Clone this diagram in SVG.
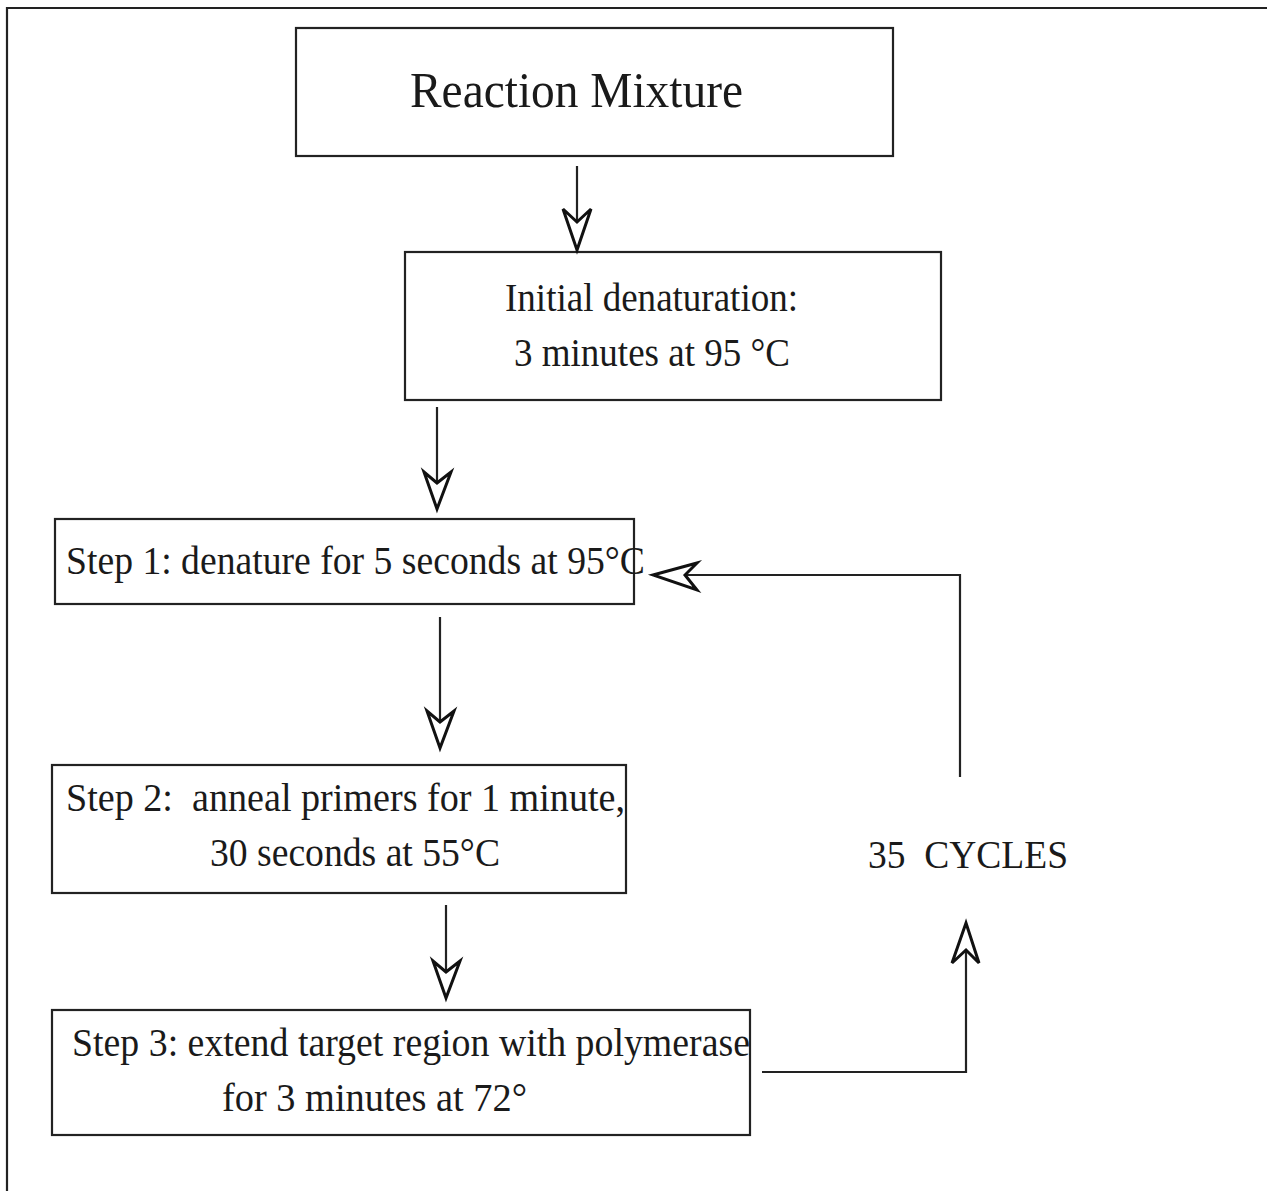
<svg xmlns="http://www.w3.org/2000/svg" width="1267" height="1191" viewBox="0 0 1267 1191">
<style>
.box{fill:none;stroke:#222;stroke-width:2.2}
.ln{fill:none;stroke:#222;stroke-width:2.2}
.ah{fill:#fff;stroke:#111;stroke-width:3;stroke-linejoin:miter}
text{font-family:"Liberation Serif","Times New Roman",serif;fill:#1a1a1a}
.t{font-size:40px}
.big{font-size:50px}
</style>
<rect width="1267" height="1191" fill="#fff"/>
<path class="box" d="M7,1191 V8 H1267"/>
<g id="reaction-mixture">
<rect class="box" x="296" y="28" width="597" height="128"/>
<text class="big" x="410" y="107" textLength="333" lengthAdjust="spacingAndGlyphs">Reaction Mixture</text>
</g>
<g id="initial-denaturation">
<rect class="box" x="405" y="252" width="536" height="148"/>
<text class="t" x="505" y="311" textLength="293" lengthAdjust="spacingAndGlyphs">Initial denaturation:</text>
<text class="t" x="514" y="366" textLength="276" lengthAdjust="spacingAndGlyphs">3 minutes at 95 °C</text>
</g>
<g id="step1">
<rect class="box" x="55" y="519" width="579" height="85"/>
<text class="t" x="66" y="574" textLength="579" lengthAdjust="spacingAndGlyphs">Step 1: denature for 5 seconds at 95°C</text>
</g>
<g id="step2">
<rect class="box" x="52" y="765" width="574" height="128"/>
<text class="t" x="66" y="811" textLength="559" lengthAdjust="spacingAndGlyphs" xml:space="preserve">Step 2:  anneal primers for 1 minute,</text>
<text class="t" x="210" y="866" textLength="290" lengthAdjust="spacingAndGlyphs">30 seconds at 55°C</text>
</g>
<g id="step3">
<rect class="box" x="52" y="1010" width="698" height="125"/>
<text class="t" x="72" y="1056" textLength="678" lengthAdjust="spacingAndGlyphs">Step 3: extend target region with polymerase</text>
<text class="t" x="222" y="1111" textLength="305" lengthAdjust="spacingAndGlyphs">for 3 minutes at 72°</text>
</g>
<g id="cycles">
<text class="t" x="868" y="868" textLength="200" lengthAdjust="spacingAndGlyphs" xml:space="preserve">35  CYCLES</text>
</g>
<g id="connectors">
<line class="ln" x1="577" y1="166" x2="577" y2="222"/>
<path class="ah" d="M577,250 L563,209 L577,222 L591,209 Z"/>
<line class="ln" x1="437" y1="407" x2="437" y2="483"/>
<path class="ah" d="M437,509 L424,472 L437,483 L451,472 Z"/>
<line class="ln" x1="440" y1="617" x2="440" y2="722"/>
<path class="ah" d="M440,748 L427,711 L440,722 L454,711 Z"/>
<line class="ln" x1="446" y1="905" x2="446" y2="972"/>
<path class="ah" d="M446,998 L433,961 L446,972 L460,961 Z"/>
<path class="ln" d="M762,1072 H966 V950"/>
<path class="ah" d="M966,923 L952,963 L966,950 L979,963 Z"/>
<path class="ln" d="M960,777 V575 H685"/>
<path class="ah" d="M653,575 L697,563 L685,575 L697,590 Z"/>
</g>
</svg>
